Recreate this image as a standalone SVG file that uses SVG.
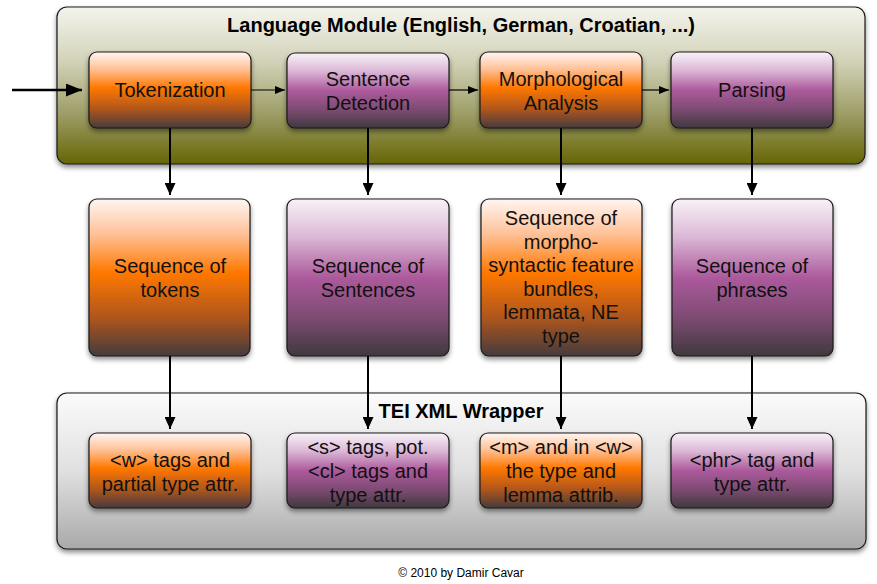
<svg xmlns="http://www.w3.org/2000/svg" width="877" height="584" viewBox="0 0 877 584">
  <defs>
    <linearGradient id="gOrange" x1="0" y1="0" x2="0" y2="1">
      <stop offset="0" stop-color="#fff6f2"/>
      <stop offset="0.22" stop-color="#ffc299"/>
      <stop offset="0.47" stop-color="#ff7800"/>
      <stop offset="0.75" stop-color="#b0561c"/>
      <stop offset="1" stop-color="#453b3d"/>
    </linearGradient>
    <linearGradient id="gPurple" x1="0" y1="0" x2="0" y2="1">
      <stop offset="0" stop-color="#f8f2f8"/>
      <stop offset="0.24" stop-color="#dcb8d6"/>
      <stop offset="0.5" stop-color="#ac5a9c"/>
      <stop offset="0.77" stop-color="#7a4a70"/>
      <stop offset="1" stop-color="#3f383e"/>
    </linearGradient>
    <linearGradient id="gOlive" x1="0" y1="0" x2="0" y2="1">
      <stop offset="0" stop-color="#f4f4ee"/>
      <stop offset="0.35" stop-color="#d2d2b8"/>
      <stop offset="0.7" stop-color="#9a9a62"/>
      <stop offset="1" stop-color="#656505"/>
    </linearGradient>
    <linearGradient id="gGray" x1="0" y1="0" x2="0" y2="1">
      <stop offset="0" stop-color="#fbfbfb"/>
      <stop offset="0.5" stop-color="#e0e0e0"/>
      <stop offset="1" stop-color="#a9a9a9"/>
    </linearGradient>
    <filter id="shadow" x="-10%" y="-10%" width="120%" height="130%">
      <feDropShadow dx="0" dy="3" stdDeviation="2.5" flood-color="#000" flood-opacity="0.45"/>
    </filter>
    <marker id="arrBig" markerUnits="userSpaceOnUse" markerWidth="17" markerHeight="13" refX="16" refY="6.5" orient="auto">
      <path d="M0,0 L16,6.5 L0,13 z" fill="#000"/>
    </marker>
    <marker id="arrMid" markerUnits="userSpaceOnUse" markerWidth="13" markerHeight="11" refX="12" refY="5.5" orient="auto">
      <path d="M0,0 L12,5.5 L0,11 z" fill="#000"/>
    </marker>
    <marker id="arrSmall" markerUnits="userSpaceOnUse" markerWidth="11" markerHeight="8" refX="10" refY="4" orient="auto">
      <path d="M0,0 L10,4 L0,8 z" fill="#000"/>
    </marker>
  </defs>
  <style>
    .container { stroke: #1a1a1a; stroke-width: 1.2; filter: url(#shadow); }
    .box { stroke: #1a1a1a; stroke-width: 1.2; filter: url(#shadow); }
    .orange { fill: url(#gOrange); }
    .purple { fill: url(#gPurple); }
    .title { font-family: "Liberation Sans", Arial, sans-serif; font-weight: bold; font-size: 20px; fill: #000; text-anchor: middle; }
    .lbl { font-family: "Liberation Sans", Arial, sans-serif; font-size: 20px; fill: #111; text-anchor: middle; }
    .copy { font-family: "Liberation Sans", Arial, sans-serif; font-size: 12px; fill: #000; text-anchor: middle; }
    .conn { stroke: #000; fill: none; }
  </style>
  <rect width="877" height="584" fill="#fff"/>

  <g id="language-module">
    <rect class="container" x="57" y="7" width="808" height="157" rx="10" fill="url(#gOlive)"/>
    <text class="title" x="461" y="32">Language Module (English, German, Croatian, ...)</text>
  </g>

  <g id="tei-wrapper">
    <rect class="container" x="57" y="393" width="809" height="156" rx="10" fill="url(#gGray)"/>
    <text class="title" x="461" y="418">TEI XML Wrapper</text>
  </g>

  <g id="tokenization">
    <rect class="box orange" x="89" y="52" width="162" height="76" rx="8"/>
    <text class="lbl" x="170" y="97">Tokenization</text>
  </g>
  <g id="sentence-detection">
    <rect class="box purple" x="287" y="53" width="162" height="75" rx="8"/>
    <text class="lbl" x="368" y="86">Sentence</text>
    <text class="lbl" x="368" y="110">Detection</text>
  </g>
  <g id="morphological-analysis">
    <rect class="box orange" x="480" y="52" width="162" height="76" rx="8"/>
    <text class="lbl" x="561" y="86">Morphological</text>
    <text class="lbl" x="561" y="110">Analysis</text>
  </g>
  <g id="parsing">
    <rect class="box purple" x="671" y="52" width="162" height="76" rx="8"/>
    <text class="lbl" x="752" y="97">Parsing</text>
  </g>

  <g id="seq-tokens">
    <rect class="box orange" x="89" y="199" width="161" height="157" rx="8"/>
    <text class="lbl" x="170" y="273">Sequence of</text>
    <text class="lbl" x="170" y="297">tokens</text>
  </g>
  <g id="seq-sentences">
    <rect class="box purple" x="287" y="199" width="162" height="157" rx="8"/>
    <text class="lbl" x="368" y="273">Sequence of</text>
    <text class="lbl" x="368" y="297">Sentences</text>
  </g>
  <g id="seq-morpho">
    <rect class="box orange" x="481" y="199" width="161" height="157" rx="8"/>
    <text class="lbl" x="561" y="225">Sequence of</text>
    <text class="lbl" x="561" y="248.6">morpho-</text>
    <text class="lbl" x="561" y="272.2">syntactic feature</text>
    <text class="lbl" x="561" y="295.8">bundles,</text>
    <text class="lbl" x="561" y="319.4">lemmata, NE</text>
    <text class="lbl" x="561" y="343">type</text>
  </g>
  <g id="seq-phrases">
    <rect class="box purple" x="672" y="199" width="161" height="157" rx="8"/>
    <text class="lbl" x="752" y="273">Sequence of</text>
    <text class="lbl" x="752" y="297">phrases</text>
  </g>

  <g id="w-tags">
    <rect class="box orange" x="89" y="433" width="162" height="75" rx="8"/>
    <text class="lbl" x="170" y="467">&lt;w&gt; tags and</text>
    <text class="lbl" x="170" y="491">partial type attr.</text>
  </g>
  <g id="s-tags">
    <rect class="box purple" x="287" y="433" width="162" height="75" rx="8"/>
    <text class="lbl" x="368" y="454">&lt;s&gt; tags, pot.</text>
    <text class="lbl" x="368" y="478">&lt;cl&gt; tags and</text>
    <text class="lbl" x="368" y="502">type attr.</text>
  </g>
  <g id="m-tags">
    <rect class="box orange" x="480" y="433" width="162" height="75" rx="8"/>
    <text class="lbl" x="561" y="454">&lt;m&gt; and in &lt;w&gt;</text>
    <text class="lbl" x="561" y="478">the type and</text>
    <text class="lbl" x="561" y="502">lemma attrib.</text>
  </g>
  <g id="phr-tags">
    <rect class="box purple" x="671" y="433" width="162" height="75" rx="8"/>
    <text class="lbl" x="752" y="467">&lt;phr&gt; tag and</text>
    <text class="lbl" x="752" y="491">type attr.</text>
  </g>

  <g id="connectors">
    <line class="conn" x1="12" y1="90" x2="82" y2="90" stroke-width="2.6" marker-end="url(#arrBig)"/>
    <line class="conn" x1="251" y1="90" x2="285" y2="90" stroke-width="1.2" marker-end="url(#arrSmall)"/>
    <line class="conn" x1="449" y1="90" x2="478" y2="90" stroke-width="1.2" marker-end="url(#arrSmall)"/>
    <line class="conn" x1="642" y1="90" x2="669" y2="90" stroke-width="1.2" marker-end="url(#arrSmall)"/>

    <line class="conn" x1="170" y1="128" x2="170" y2="195" stroke-width="2" marker-end="url(#arrMid)"/>
    <line class="conn" x1="368" y1="128" x2="368" y2="195" stroke-width="2" marker-end="url(#arrMid)"/>
    <line class="conn" x1="561" y1="128" x2="561" y2="195" stroke-width="2" marker-end="url(#arrMid)"/>
    <line class="conn" x1="752" y1="128" x2="752" y2="195" stroke-width="2" marker-end="url(#arrMid)"/>

    <line class="conn" x1="170" y1="356" x2="170" y2="429" stroke-width="2" marker-end="url(#arrMid)"/>
    <line class="conn" x1="368" y1="356" x2="368" y2="429" stroke-width="2" marker-end="url(#arrMid)"/>
    <line class="conn" x1="561" y1="356" x2="561" y2="429" stroke-width="2" marker-end="url(#arrMid)"/>
    <line class="conn" x1="752" y1="356" x2="752" y2="429" stroke-width="2" marker-end="url(#arrMid)"/>
  </g>

  <text class="copy" x="461" y="577">© 2010 by Damir Cavar</text>
</svg>
